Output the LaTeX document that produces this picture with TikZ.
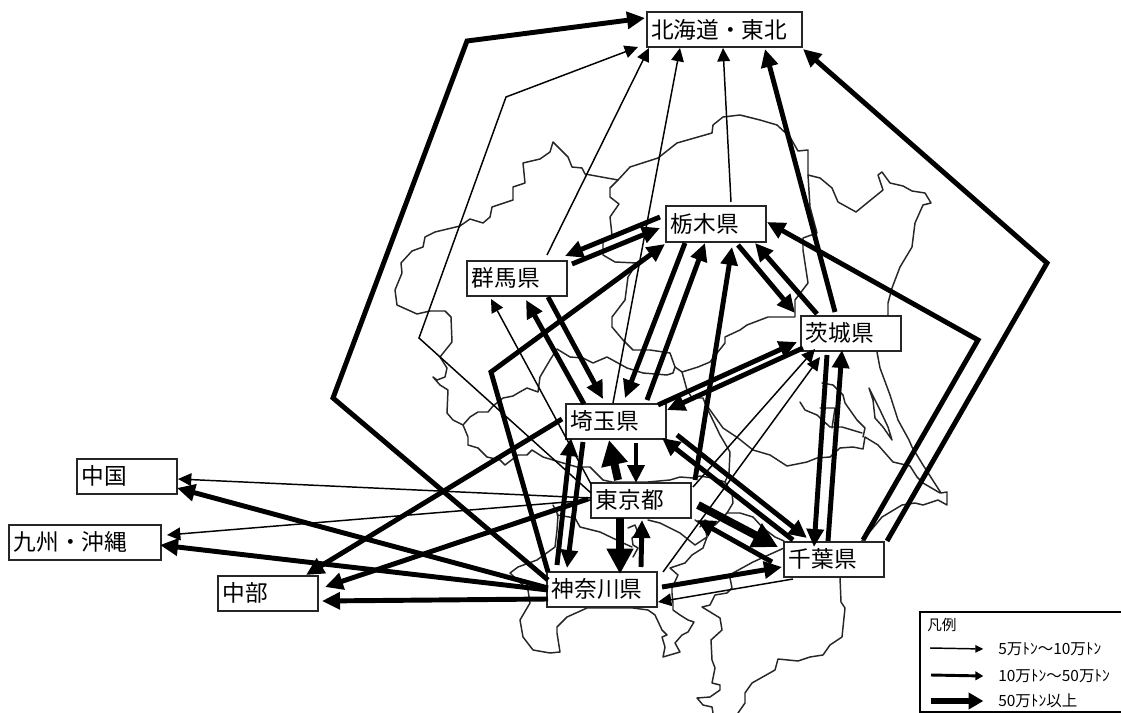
\documentclass[tikz,border=0pt]{standalone}
\usepackage{fontspec}
\setmainfont{Noto Sans CJK JP}
\usetikzlibrary{arrows.meta}
\tikzset{
  x=0.75pt,y=-0.75pt,
  mapline/.style={line width=1.1pt,black!85,line join=round,line cap=round},
  stn/.style={draw=black!85,fill=white,line width=1.5pt,rectangle,inner xsep=3.5pt,inner ysep=0pt,minimum height=26.25pt,align=left,font=\fontsize{17pt}{18pt}\selectfont},
  lnthin/.style={line width=1.1pt,-{Triangle[length=10pt,width=9.5pt]}},
  lnmed/.style={line width=3.7pt,-{Triangle[length=13.5pt,width=12.5pt]}},
  lnthick/.style={line width=6pt,-{Triangle[length=19pt,width=19pt]}},
  legthin/.style={line width=1.1pt,-{Triangle[length=6pt,width=5.5pt]}},
  legmed/.style={line width=2.2pt,-{Triangle[length=6pt,width=6.5pt]}},
  legthick/.style={line width=4.5pt,-{Triangle[length=11pt,width=12pt]}},
  legtxt/.style={anchor=west,inner sep=0pt,font=\fontsize{11.6pt}{13pt}\selectfont},
}
\newcommand{\rel}[3]{([shift={(#2,#3)}]#1.center)}
\begin{document}
\begin{tikzpicture}
\useasboundingbox (0,0) rectangle (1121,713);
\fill[white] (0,0) rectangle (1121,713);
% ---- map ----
\draw[mapline] plot coordinates {(440,357)(452,342)(451,317)(445,311)(430,311)(417,314)(397,305)(395,290)(402,273)(401,263)(412,251)(423,247)(425,237)(435,232)(460,226)(470,219)(483,223)(490,217)(492,207)(513,200)(513,187)(525,183)(523,163)(540,159)(550,152)(553,142)(568,157)(572,167)(582,168)(585,174)(618,180)(630,167)(658,158)(677,143)(712,133)(713,125)(723,117)(740,115)(760,120)(777,125)(790,137)(798,151)(808,150)(808,175)(820,178)(832,188)(838,202)(856,212)(867,203)(883,190)(878,175)(882,172)(890,183)(903,186)(912,191)(925,193)(931,203)(923,205)(915,223)(912,247)(900,267)(892,288)(888,303)(888,315)(877,352)(880,368)(890,395)(898,420)(909,440)(912,447)(923,465)(941,493)(947,492)(947,505)(938,500)(923,505)(915,503)(902,505)(882,517)(863,540)(840,560)(840,578)(841,602)(845,608)(842,637)(830,645)(823,655)(810,657)(798,661)(778,659)(775,670)(752,683)(745,693)(745,703)(738,713)};
\draw[mapline] plot coordinates {(713,713)(712,707)(703,705)(697,698)(710,697)(720,690)(720,685)(712,683)(715,668)(712,660)(711,640)(722,630)(720,618)(702,607)(710,605)(715,595)(727,593)(732,588)(730,578)(733,573)(753,562)(784,548)};
\draw[mapline] plot coordinates {(869,388)(873,400)(875,418)(883,427)(892,440)(888,427)(880,410)(869,388)};
\draw[mapline] plot coordinates {(618,180)(610,188)(610,197)(619,204)(610,217)(612,235)(603,242)(603,255)(615,262)(637,263)(628,277)(625,300)(612,317)(612,327)(623,340)(633,350)(650,350)(670,353)(675,367)(682,372)(698,367)(710,362)(725,343)(725,337)(740,330)(747,325)(768,317)(795,317)(795,300)(808,283)(803,250)(803,238)(817,233)(810,207)(808,175)};
\draw[mapline] plot coordinates {(675,367)(673,373)(667,375)(643,373)(627,368)(607,357)(593,363)(583,358)(570,357)(557,349)(550,360)(540,377)(538,392)(527,388)(518,393)(513,396)(503,398)(493,406)(488,412)(478,412)(470,417)(463,425)};
\draw[mapline] plot coordinates {(440,357)(447,368)(445,377)(437,380)(433,377)(440,385)(448,390)(447,413)(453,420)(463,425)(468,437)(468,445)(478,448)(487,457)(500,460)(505,465)(518,455)(527,455)(532,450)(543,457)(563,463)(577,467)(590,467)(603,480)(612,482)(648,482)(670,480)(680,477)(693,478)(700,476)(712,478)(725,482)};
\draw[mapline] plot coordinates {(682,372)(687,390)(692,398)(703,398)(707,408)(720,435)(730,452)(729,473)(725,482)(732,493)(733,503)(727,513)};
\draw[mapline] plot coordinates {(700,527)(705,520)(715,525)(727,513)(740,513)(753,517)(763,528)(775,537)(784,541)};
\draw[mapline] plot coordinates {(557,515)(575,518)(580,527)(600,532)(623,543)(632,547)};
\draw[mapline] plot coordinates {(628,528)(635,525)(638,533)(632,538)(633,545)(638,548)(633,557)};
\draw[mapline] plot coordinates {(648,520)(660,523)(680,533)(695,545)(707,537)(705,527)(695,520)};
\draw[mapline] plot coordinates {(707,537)(703,548)(692,555)(685,563)(670,568)(678,575)(672,588)(672,593)(673,603)(673,610)(680,615)(688,620)(694,622)(688,632)(682,635)(675,643)(680,652)(663,657)(665,647)(662,637)(667,635)(662,630)(655,615)(648,610)(633,608)(587,608)(567,617)(557,627)(557,633)(560,652)(550,653)(533,650)(523,637)(520,620)(530,603)(528,590)(510,573)(518,567)(537,560)(555,547)(557,530)(558,515)(553,505)};
\draw[mapline] plot coordinates {(705,403)(723,428)(738,438)(753,450)(770,455)(787,466)(807,462)(817,458)(830,457)(840,448)(853,447)(863,449)(865,437)(878,445)(893,462)(910,466)(917,477)(923,483)(940,493)};
\draw[mapline] plot coordinates {(822,383)(833,385)(843,395)(845,403)(857,420)(865,428)(863,437)};
\draw[mapline] plot coordinates {(800,402)(805,410)(817,415)(830,427)(842,427)(862,433)};
\draw[mapline] plot coordinates {(820,408)(835,408)(832,428)};
% ---- prefectures ----
\node[stn,text width=109.25pt] (hk) at (724,30) {北海道・東北};
\node[stn,text width=68pt] (tg) at (716,224) {栃木県};
\node[stn,text width=68pt] (gm) at (517,278) {群馬県};
\node[stn,text width=68pt] (ib) at (851,333) {茨城県};
\node[stn,text width=68pt] (st) at (616,421) {埼玉県};
\node[stn,text width=68pt] (tk) at (641,500) {東京都};
\node[stn,text width=75.5pt] (kn) at (602,589) {神奈川県};
\node[stn,text width=68pt] (cb) at (834,559) {千葉県};
\node[stn,text width=68pt] (cg) at (127,476) {中国};
\node[stn,text width=107pt] (ky) at (85,542) {九州・沖縄};
\node[stn,text width=68pt] (cu) at (268,593) {中部};
% ---- bends ----
\coordinate (b1a) at (333,398); \coordinate (b1b) at (467,41);
\coordinate (b2a) at (419,338); \coordinate (b2b) at (506,97);
\coordinate (b7) at (1047,263);
\coordinate (b8) at (978,340);
\coordinate (b11) at (491,372);
% ---- connectors ----
\draw[lnmed] \rel{kn}{-54}{-9} -- (b1a) -- (b1b) -- \rel{hk}{-79}{-12};
\draw[lnthin] \rel{tk}{-50}{-7} -- (b2a) -- (b2b) -- \rel{hk}{-86}{17};
\draw[lnthin] \rel{gm}{30}{-23} -- \rel{hk}{-75}{18};
\draw[lnthin] \rel{st}{-3}{-18} -- \rel{hk}{-44}{18};
\draw[lnthin] \rel{tg}{15}{-22} -- \rel{hk}{-1}{18};
\draw[lnmed] \rel{ib}{-16}{-21} -- \rel{hk}{41}{19};
\draw[lnmed] \rel{cb}{53}{-18} -- (b7) -- \rel{hk}{79}{19};
\draw[lnmed] \rel{cb}{29}{-19} -- (b8) -- \rel{tg}{51}{-2};
\draw[lnmed] \rel{tg}{-56}{-7} -- \rel{gm}{48}{-22};
\draw[lnmed] \rel{gm}{55}{-14} -- \rel{tg}{-56}{4};
\draw[lnmed] \rel{kn}{-54}{-17} -- (b11) -- \rel{tg}{-51}{20};
\draw[lnmed] \rel{gm}{31}{19} -- \rel{st}{-13}{-22};
\draw[lnmed] \rel{st}{-32}{-17} -- \rel{gm}{9}{22};
\draw[lnthin] \rel{tk}{-50}{-16} -- \rel{gm}{-26}{21};
\draw[lnmed] \rel{tg}{-31}{19} -- \rel{st}{9}{-23};
\draw[lnmed] \rel{st}{31}{-21} -- \rel{tg}{-11}{19};
\draw[lnmed] \rel{tk}{54}{-20} -- \rel{tg}{16}{23};
\draw[lnmed] \rel{tg}{22}{21} -- \rel{ib}{-56}{-20};
\draw[lnmed] \rel{ib}{-34}{-19} -- \rel{tg}{39}{19};
\draw[lnmed] \rel{st}{42}{-16} -- \rel{ib}{-54}{9};
\draw[lnmed] \rel{ib}{-48}{15} -- \rel{st}{51}{-11};
\draw[lnthin] \rel{tk}{52}{-13} -- \rel{ib}{-36}{16};
\draw[lnthin] \rel{kn}{61}{-17} -- \rel{ib}{-31}{24};
\draw[lnmed] \rel{cb}{-6}{-18} -- \rel{ib}{-9}{17};
\draw[lnmed] \rel{ib}{-24}{22} -- \rel{cb}{-20}{-12};
\draw[lnmed] \rel{st}{61}{14} -- \rel{cb}{-27}{-21};
\draw[lnmed] \rel{cb}{-41}{-19} -- \rel{st}{46}{17};
\draw[lnthick] \rel{tk}{57}{5} -- \rel{cb}{-56}{-12};
\draw[lnmed] \rel{cb}{-62}{3} -- \rel{tk}{56}{20};
\draw[lnmed] \rel{kn}{60}{-2} -- \rel{cb}{-52}{8};
\draw[lnthin] \rel{cb}{-41}{20} -- \rel{kn}{56}{13};
\draw[lnmed] \rel{st}{20}{22} -- \rel{tk}{-5}{-17};
\draw[lnthick] \rel{tk}{-23}{-20} -- \rel{st}{-7}{19};
\draw[lnthick] \rel{tk}{-21}{18} -- \rel{kn}{18}{-15};
\draw[lnmed] \rel{kn}{39}{-22} -- \rel{tk}{1}{20};
\draw[lnmed] \rel{st}{-33}{21} -- \rel{kn}{-35}{-21};
\draw[lnmed] \rel{kn}{-45}{-24} -- \rel{st}{-45}{17};
\draw[lnmed] \rel{st}{-54}{-2} -- \rel{cu}{38}{-18};
\draw[lnmed] \rel{tk}{-53}{-1} -- \rel{cu}{57}{-6};
\draw[lnthin] \rel{tk}{-50}{-2} -- \rel{cg}{51}{3};
\draw[lnthin] \rel{tk}{-50}{0} -- \rel{ky}{82}{-7};
\draw[lnmed] \rel{kn}{-54}{-1} -- \rel{cg}{50}{12};
\draw[lnmed] \rel{kn}{-54}{1} -- \rel{ky}{75}{3};
\draw[lnmed] \rel{kn}{-54}{10} -- \rel{cu}{54}{8};
% ---- legend ----
\draw[line width=1.5pt] (1121,612) -| (920,712) -- (1121,712);
\node[legtxt,font=\fontsize{11pt}{13pt}\selectfont] (lt0) at (927,625) {凡例};
\node[legtxt] (lt1) at (998,649) {5万ﾄﾝ～10万ﾄﾝ};
\node[legtxt] (lt2) at (998,676) {10万ﾄﾝ～50万ﾄﾝ};
\node[legtxt] (lt3) at (998,701) {50万ﾄﾝ以上};
\coordinate (la1) at (930,648); \coordinate (la2) at (931,675); \coordinate (la3) at (931,701);
\draw[legthin] (la1) -- ([xshift=-11]lt1.west);
\draw[legmed] (la2) -- ([xshift=-11]lt2.west);
\draw[legthick] (la3) -- ([xshift=-11]lt3.west);
\end{tikzpicture}
\end{document}
